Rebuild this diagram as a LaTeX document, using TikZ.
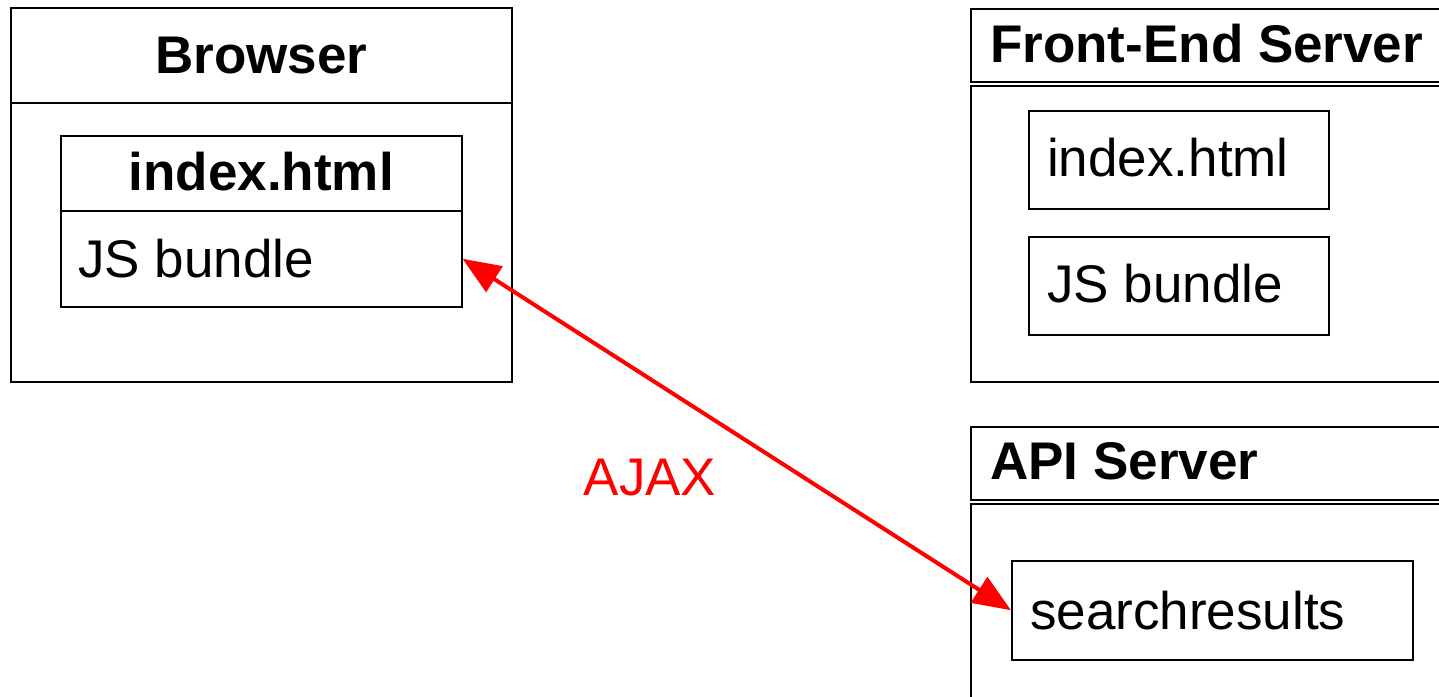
\documentclass[tikz,border=0pt]{standalone}
\usepackage{fontspec}
\setmainfont{Liberation Sans}
\usetikzlibrary{arrows.meta}
\definecolor{ajaxred}{RGB}{255,0,0}

\begin{document}
\begin{tikzpicture}[x=1pt,y=-1pt,
  wbox/.style={draw,line width=1.5pt,inner sep=0pt,anchor=north west},
  head/.style={font=\fontsize{53}{60}\selectfont\bfseries,inner sep=0pt},
  txt/.style={font=\fontsize{53}{60}\selectfont,inner sep=0pt,anchor=west}]
\useasboundingbox (0,0) rectangle (1439,696);
\clip (0,0) rectangle (1439,696);
% browser
\node[wbox,minimum width=501pt,minimum height=95pt] (brhead) at (10,7) {};
\node[wbox,minimum width=501pt,minimum height=279pt] (brbody) at (10,102) {};
\node[head] (brtitle) at (brhead.center) {Browser};
\node[wbox,minimum width=401pt,minimum height=75pt] (brindex) at (60,135) {};
\node[wbox,minimum width=401pt,minimum height=96pt] (brjs) at (60,210) {};
\node[head] (brindextxt) at ([yshift=2pt]brindex.center) {index.html};
\node[txt] (brjstxt) at ([xshift=18pt]brjs.west) {JS bundle};
% front-end server
\node[wbox,minimum width=490pt,minimum height=73pt] (fehead) at (970,8) {};
\node[wbox,minimum width=490pt,minimum height=296pt] (febody) at (970,85) {};
\node[head,anchor=west] (fetitle) at ([xshift=20pt,yshift=2pt]fehead.west) {Front-End Server};
\node[wbox,minimum width=300pt,minimum height=98pt] (feindex) at (1028,110) {};
\node[wbox,minimum width=300pt,minimum height=98pt] (fejs) at (1028,236) {};
\node[txt] (feindextxt) at ([xshift=19pt,yshift=2pt]feindex.west) {index.html};
\node[txt] (fejstxt) at ([xshift=19pt,yshift=2pt]fejs.west) {JS bundle};
% api server
\node[wbox,minimum width=490pt,minimum height=73pt] (apihead) at (970,426) {};
\node[wbox,minimum width=490pt,minimum height=250pt] (apibody) at (970,503) {};
\node[head,anchor=west] (apititle) at ([xshift=20pt,yshift=2pt]apihead.west) {API Server};
\node[wbox,minimum width=401pt,minimum height=99pt] (search) at (1011,560) {};
\node[txt] (searchtxt) at ([xshift=19pt]search.west) {searchresults};
% ajax call
\node[txt,anchor=center,text=ajaxred] (ajax) at (650,478) {AJAX};
\draw[ajaxred,line width=4pt,{Triangle[length=38pt,width=30pt]}-{Triangle[length=38pt,width=30pt]}]
  (brjs.east) -- (search.west);
\end{tikzpicture}
\end{document}
